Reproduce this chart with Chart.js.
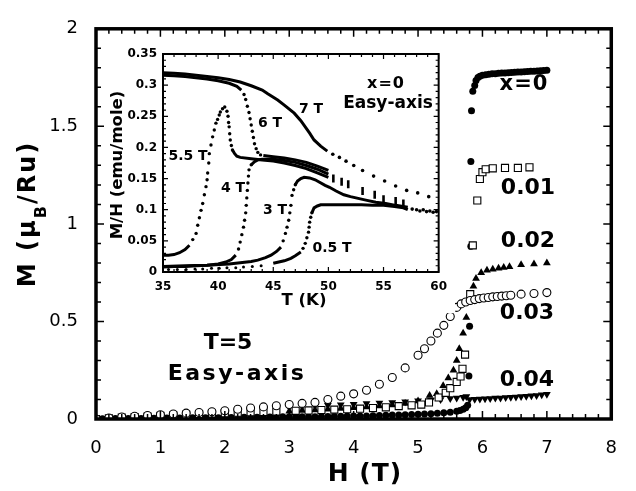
<!DOCTYPE html>
<html>
<head>
<meta charset="utf-8">
<script src="https://cdn.jsdelivr.net/npm/chart.js@4.4.1/dist/chart.umd.min.js"></script>
<style>
  body { margin: 0; background: #fff; }
  #wrap { position: relative; width: 636px; height: 491px; }
  #main { position: absolute; left: 0; top: 0; }
  #inset { position: absolute; left: 105px; top: 38px; background: #fff; }
</style>
</head>
<body>
<div id="wrap">
  <canvas id="main" width="636" height="491"></canvas>
  <canvas id="inset" width="350" height="275"></canvas>
</div>
<script>
"use strict"

// ---------- main plot: M (muB/Ru) vs H (T), T = 5 K ----------

// x = 0 (filled circles)
const H_x0 = [
  0, 0.1, 0.2, 0.3, 0.4, 0.5, 0.6, 0.7, 0.8, 0.9,
  1, 1.1, 1.2, 1.3, 1.4, 1.5, 1.6, 1.7, 1.8, 1.9,
  2, 2.1, 2.2, 2.3, 2.4, 2.5, 2.6, 2.7, 2.8, 2.9,
  3, 3.1, 3.2, 3.3, 3.4, 3.5, 3.6, 3.7, 3.8, 3.9,
  4, 4.1, 4.2, 4.3, 4.4, 4.5, 4.6, 4.7, 4.8, 4.9,
  5, 5.1, 5.2, 5.3, 5.4, 5.5, 5.6, 5.65, 5.7, 5.74, 5.77,
  5.79, 5.8, 5.82, 5.82, 5.83, 5.85, 5.88, 5.9, 5.93, 5.96,
  6, 6.05, 6.1, 6.15, 6.2, 6.25, 6.3, 6.35, 6.4, 6.45,
  6.5, 6.55, 6.6, 6.65, 6.7, 6.75, 6.8, 6.85, 6.9, 6.95, 7
];
const M_x0 = [
  0, 0.001, 0.001, 0.002, 0.002, 0.003, 0.003, 0.003, 0.004, 0.004,
  0.004, 0.005, 0.005, 0.005, 0.006, 0.006, 0.006, 0.007, 0.007, 0.007,
  0.008, 0.008, 0.008, 0.009, 0.009, 0.009, 0.010, 0.010, 0.010, 0.011,
  0.011, 0.011, 0.012, 0.012, 0.012, 0.013, 0.013, 0.014, 0.014, 0.015,
  0.015, 0.016, 0.016, 0.017, 0.018, 0.019, 0.020, 0.021, 0.022, 0.023,
  0.024, 0.025, 0.027, 0.029, 0.032, 0.035, 0.040, 0.044, 0.050, 0.058, 0.070,
  0.22, 0.475, 0.886, 1.32, 1.58, 1.68, 1.71, 1.735, 1.75, 1.757,
  1.762, 1.765, 1.767, 1.769, 1.77, 1.772, 1.773, 1.774, 1.775, 1.776,
  1.777, 1.778, 1.779, 1.78, 1.781, 1.782, 1.783, 1.784, 1.785, 1.786, 1.787
];

// x = 0.01 (open squares)
const H_x01 = [
  0, 0.2, 0.4, 0.6, 0.8, 1, 1.2, 1.4, 1.6, 1.8, 2, 2.2, 2.4, 2.6, 2.8,
  3.1, 3.3, 3.5, 3.7, 3.9, 4.1, 4.3, 4.5, 4.7, 4.9,
  5.05, 5.17, 5.32, 5.43, 5.5, 5.6, 5.66, 5.69, 5.73, 5.81,
  5.85, 5.92, 5.96, 6, 6.05, 6.16, 6.35, 6.55, 6.73
];
const M_x01 = [
  0, 0.004, 0.007, 0.010, 0.013, 0.016, 0.019, 0.022, 0.025, 0.028, 0.030, 0.032, 0.035, 0.036, 0.038,
  0.042, 0.044, 0.046, 0.048, 0.050, 0.053, 0.056, 0.060, 0.066, 0.070,
  0.074, 0.085, 0.110, 0.134, 0.158, 0.190, 0.218, 0.257, 0.330, 0.640,
  0.890, 1.120, 1.230, 1.265, 1.280, 1.285, 1.287, 1.287, 1.290
];

// x = 0.02 (filled triangles)
const H_x02 = [
  0, 0.2, 0.4, 0.6, 0.8, 1, 1.2, 1.4, 1.6, 1.8, 2, 2.2, 2.4,
  2.6, 2.8, 3, 3.2, 3.4, 3.6, 3.8, 4, 4.2, 4.4, 4.6, 4.8, 5,
  5.18, 5.29, 5.39, 5.47, 5.55, 5.6, 5.64, 5.7, 5.75,
  5.86, 5.9, 5.98, 6.07, 6.16, 6.25, 6.33, 6.42, 6.6, 6.8, 7
];
const M_x02 = [
  0, 0.003, 0.006, 0.009, 0.012, 0.015, 0.018, 0.020, 0.023, 0.026, 0.028, 0.031, 0.033,
  0.036, 0.038, 0.040, 0.043, 0.046, 0.050, 0.054, 0.058, 0.062, 0.066, 0.072, 0.080, 0.092,
  0.12, 0.13, 0.17, 0.21, 0.25, 0.30, 0.36, 0.44, 0.52,
  0.68, 0.72, 0.75, 0.762, 0.768, 0.773, 0.777, 0.78, 0.79, 0.795, 0.80
];

// x = 0.03 (open circles)
const H_x03 = [
  0, 0.2, 0.4, 0.6, 0.8, 1, 1.2, 1.4, 1.6, 1.8,
  2, 2.2, 2.4, 2.6, 2.8, 3, 3.2, 3.4, 3.6, 3.8,
  4, 4.2, 4.4, 4.6, 4.8, 5, 5.1, 5.2, 5.3, 5.4,
  5.5, 5.6, 5.67, 5.74, 5.81, 5.88, 5.95, 6.02, 6.09, 6.16,
  6.23, 6.3, 6.37, 6.44, 6.6, 6.8, 7
];
const M_x03 = [
  0, 0.005, 0.010, 0.014, 0.018, 0.022, 0.026, 0.030, 0.033, 0.037,
  0.042, 0.050, 0.056, 0.062, 0.068, 0.074, 0.080, 0.085, 0.100, 0.117,
  0.129, 0.147, 0.178, 0.213, 0.262, 0.327, 0.36, 0.40, 0.44, 0.48,
  0.525, 0.572, 0.59, 0.60, 0.607, 0.612, 0.617, 0.62, 0.623, 0.626,
  0.628, 0.63, 0.632, 0.634, 0.64, 0.643, 0.648
];

// x = 0.04 (filled down triangles)
const H_x04 = [
  0, 0.2, 0.4, 0.6, 0.8, 1, 1.2, 1.4, 1.6, 1.8,
  2, 2.2, 2.4, 2.6, 2.8, 3, 3.2, 3.4, 3.6, 3.8,
  4, 4.2, 4.4, 4.6, 4.8, 5, 5.2, 5.35, 5.5, 5.6, 5.7, 5.75,
  5.8, 5.88, 5.96, 6.04, 6.12, 6.2, 6.28, 6.36, 6.44, 6.52,
  6.6, 6.68, 6.76, 6.84, 6.92, 7
];
const M_x04 = [
  0, 0.004, 0.008, 0.012, 0.016, 0.020, 0.024, 0.028, 0.032, 0.036,
  0.040, 0.044, 0.048, 0.052, 0.056, 0.060, 0.063, 0.066, 0.070, 0.073,
  0.076, 0.079, 0.082, 0.085, 0.089, 0.093, 0.097, 0.100, 0.105, 0.108, 0.112, 0.115,
  0.100, 0.101, 0.102, 0.104, 0.105, 0.107, 0.108, 0.110, 0.111, 0.113,
  0.115, 0.117, 0.119, 0.121, 0.124, 0.127
];

// ---------- inset: M/H (emu/mole) vs T (K), x = 0 ----------

// 7 T
const T_7 = [35, 36, 37, 38, 39, 40, 41, 42, 43, 44, 44.5, 45.4, 46, 46.9, 47.5, 48.3, 48.7, 49.3, 49.9];
const MH_7 = [0.320, 0.319, 0.318, 0.316, 0.314, 0.312, 0.309, 0.305, 0.299, 0.292, 0.286, 0.276, 0.268, 0.255, 0.243, 0.223, 0.212, 0.202, 0.194];
const T_7dots = [50.4, 51.0, 51.6, 52.3, 53.1, 54.1, 55.1, 56.1, 57.1, 58.1, 59.1];
const MH_7dots = [0.189, 0.184, 0.178, 0.171, 0.163, 0.154, 0.146, 0.138, 0.131, 0.127, 0.121];

// 6 T
const T_6 = [35, 36, 37, 38, 39, 40, 41, 41.7, 42.1];
const MH_6 = [0.316, 0.315, 0.314, 0.312, 0.310, 0.307, 0.303, 0.298, 0.292];
const T_6drop = [42.35, 42.5, 42.65, 42.8, 42.9, 43.0, 43.1, 43.2, 43.3, 43.45, 43.6, 43.85];
const MH_6drop = [0.285, 0.277, 0.266, 0.256, 0.246, 0.236, 0.226, 0.216, 0.206, 0.198, 0.192, 0.188];
const T_6band = [44.1, 45, 46, 47, 48, 49, 50];
const MH_6band = [0.187, 0.185, 0.183, 0.180, 0.176, 0.170, 0.163];

// 5.5 T
const T_55 = [35, 35.5, 36, 36.5, 37, 37.4];
const MH_55 = [0.027, 0.027, 0.028, 0.031, 0.036, 0.043];
const T_55rise = [37.7, 38.0, 38.15, 38.3, 38.45, 38.6, 38.75, 38.9, 39.0, 39.05, 39.15, 39.2, 39.35, 39.5, 39.65,
  39.8, 39.95, 40.1, 40.2, 40.4, 40.6, 40.8, 40.9, 40.95, 41.0, 41.05, 41.1, 41.2, 41.3];
const MH_55rise = [0.052, 0.062, 0.075, 0.087, 0.099, 0.110, 0.124, 0.137, 0.148, 0.159, 0.175, 0.190, 0.204, 0.217, 0.228,
  0.239, 0.245, 0.252, 0.257, 0.262, 0.265, 0.258, 0.250, 0.240, 0.233, 0.222, 0.212, 0.203, 0.196];
const T_55band = [41.3, 41.5, 41.7, 42, 43, 44, 45, 46, 47, 48, 49, 50];
const MH_55band = [0.196, 0.190, 0.186, 0.184, 0.182, 0.180, 0.178, 0.175, 0.171, 0.166, 0.159, 0.152];

// 4 T
const T_4 = [35, 36, 37, 38, 39, 40, 40.7, 41.2, 41.6];
const MH_4 = [0.008, 0.009, 0.009, 0.010, 0.011, 0.013, 0.016, 0.020, 0.027];
const T_4rise = [41.85, 42.0, 42.15, 42.3, 42.4, 42.5, 42.55, 42.6, 42.65, 42.7, 42.75, 42.8, 43.0];
const MH_4rise = [0.037, 0.048, 0.060, 0.072, 0.083, 0.095, 0.107, 0.119, 0.131, 0.143, 0.154, 0.164, 0.172];
const T_4band = [43.0, 43.3, 43.6, 44, 45, 46, 47, 48, 49, 50];
const MH_4band = [0.172, 0.177, 0.180, 0.181, 0.181, 0.179, 0.176, 0.171, 0.165, 0.157];

// clustered points of the 4-6 T curves above 50 K
const T_dash = [50.45, 51.2, 51.8, 53.1, 54.2, 55.0, 56.1, 56.8];
const MH_dash = [0.150, 0.145, 0.141, 0.130, 0.124, 0.117, 0.114, 0.110];

// 3 T
const T_3 = [35, 37, 39, 41, 42, 43, 43.6, 44.3, 44.8, 45.3, 45.7];
const MH_3 = [0.009, 0.010, 0.011, 0.013, 0.015, 0.017, 0.019, 0.023, 0.027, 0.033, 0.040];
const T_3rise = [45.9, 46.1, 46.25, 46.4, 46.5, 46.6, 46.7, 46.85, 47.0];
const MH_3rise = [0.050, 0.062, 0.072, 0.083, 0.095, 0.107, 0.123, 0.132, 0.140];
const T_3top = [47.0, 47.2, 47.5, 47.8, 48.3, 48.8, 49.2, 49.7, 50.1, 50.7, 51.4, 52.0, 52.5, 53.5, 54.3, 55.2, 56.1, 57.2];
const MH_3top = [0.140, 0.146, 0.150, 0.152, 0.151, 0.148, 0.144, 0.139, 0.136, 0.130, 0.124, 0.121, 0.119, 0.115, 0.112, 0.110, 0.107, 0.104];

// 0.5 T
const T_05 = [45.0, 45.5, 46, 46.6, 47, 47.5];
const MH_05 = [0.014, 0.016, 0.018, 0.022, 0.026, 0.032];
const T_05rise = [47.7, 47.9, 48.05, 48.2, 48.25, 48.3, 48.4, 48.5];
const MH_05rise = [0.038, 0.046, 0.055, 0.064, 0.072, 0.080, 0.088, 0.095];
const T_05top = [48.5, 48.7, 49.0, 49.3, 50, 51, 52, 53, 54, 55, 56, 56.8, 57.2];
const MH_05top = [0.095, 0.103, 0.106, 0.108, 0.108, 0.108, 0.108, 0.108, 0.107, 0.107, 0.105, 0.103, 0.100];
const T_tail = [57.6, 58.0, 58.3, 58.6, 58.9, 59.2, 59.5, 59.8];
const MH_tail = [0.101, 0.100, 0.098, 0.100, 0.097, 0.098, 0.096, 0.097];

// sparse low points
const T_base = [35.5, 36.3, 37.1, 37.9, 38.6, 39.4, 40.1, 40.8, 41.6, 42.3, 43.1, 43.9];
const MH_base = [0.004, 0.004, 0.004, 0.005, 0.005, 0.006, 0.006, 0.007, 0.007, 0.008, 0.009, 0.010];


const FONT = "'DejaVu Sans', 'Liberation Sans', Arial, sans-serif";

function zip(xs, ys) {
    return xs.map(function (v, i) { return { x: v, y: ys[i] }; });
}

function fmt(v) {
    return String(+Number(v).toFixed(2));
}

function text(ctx, str, x, y, size, spacing, rot) {
    ctx.save();
    ctx.font = "bold " + size + "px " + FONT;
    ctx.letterSpacing = (spacing || 0) + "px";
    ctx.fillStyle = "#000";
    ctx.textAlign = "center";
    ctx.textBaseline = "middle";
    ctx.translate(x, y);
    if (rot) ctx.rotate(rot);
    ctx.fillText(str, 0, 0);
    ctx.restore();
};

// frame + inward ticks on all four sides
const framePlugin = {
    id: "frame",
    afterDatasetsDraw(chart, args, o) {
        const ctx = chart.ctx;
        const a = chart.chartArea;
        const xs = chart.scales.x;
        const ys = chart.scales.y;

        ctx.save();
        ctx.strokeStyle = "#000";
        ctx.lineWidth = o.tickWidth;
        ctx.beginPath();

        const nx = Math.round((xs.max - xs.min) / o.xMinor);
        const kx = Math.round(o.xMajor / o.xMinor);
        for (let i = 0; i <= nx; i++) {
            const px = xs.getPixelForValue(xs.min + i * o.xMinor);
            const len = (i % kx === 0) ? o.major : o.minor;
            ctx.moveTo(px, a.bottom); ctx.lineTo(px, a.bottom - len);
            ctx.moveTo(px, a.top); ctx.lineTo(px, a.top + len);
        }

        const ny = Math.round((ys.max - ys.min) / o.yMinor);
        const ky = Math.round(o.yMajor / o.yMinor);
        for (let i = 0; i <= ny; i++) {
            const py = ys.getPixelForValue(ys.min + i * o.yMinor);
            const len = (i % ky === 0) ? o.major : o.minor;
            ctx.moveTo(a.left, py); ctx.lineTo(a.left + len, py);
            ctx.moveTo(a.right, py); ctx.lineTo(a.right - len, py);
        }
        ctx.stroke();

        ctx.lineWidth = o.lineWidth;
        ctx.strokeRect(a.left, a.top, a.right - a.left, a.bottom - a.top);
        ctx.restore();
    }
};

const mainText = {
    id: "mainText",
    afterDraw(chart) {
        const ctx = chart.ctx;

        text(ctx, "x=0", 524, 85, 21, 1);
        text(ctx, "0.01", 528, 188, 22, 0);
        text(ctx, "0.02", 528, 241, 22, 0);
        text(ctx, "0.03", 527, 313, 22, 0);
        text(ctx, "0.04", 527, 380, 22, 0);
        text(ctx, "T=5", 228, 343, 22, 0);
        text(ctx, "Easy-axis", 237, 374, 22, 2.5);
        text(ctx, "H (T)", 365, 474, 25, 1);

        // y title with subscript
        ctx.save();
        ctx.translate(35, 214);
        ctx.rotate(-Math.PI / 2);
        ctx.fillStyle = "#000";
        ctx.textAlign = "left";
        ctx.textBaseline = "alphabetic";
        ctx.letterSpacing = "2px";
        const big = "bold 24px " + FONT;
        const small = "bold 16px " + FONT;
        const a = "M (\u03bc", b = "B", c = "/Ru)";
        ctx.font = big;
        const wa = ctx.measureText(a).width;
        const wc = ctx.measureText(c).width;
        ctx.font = small;
        const wb = ctx.measureText(b).width;
        let x = -(wa + wb + wc) / 2;
        ctx.font = big; ctx.fillText(a, x, 0); x += wa;
        ctx.font = small; ctx.fillText(b, x, 11); x += wb;
        ctx.font = big; ctx.fillText(c, x, 0);
        ctx.restore();
    }
};

const insetText = {
    id: "insetText",
    afterDraw(chart) {
        const ctx = chart.ctx;
        text(ctx, "x=0", 281, 46, 16, 1);
        text(ctx, "Easy-axis", 283, 66, 17, 0);
        text(ctx, "7 T", 206, 71, 14, 0);
        text(ctx, "6 T", 165, 85, 14, 0);
        text(ctx, "5.5 T", 83, 118, 14, 0);
        text(ctx, "4 T", 128, 150, 14, 0);
        text(ctx, "3 T", 170, 172, 14, 0);
        text(ctx, "0.5 T", 227, 210, 14, 0);
        text(ctx, "T (K)", 199, 263, 16.5, 0);
        text(ctx, "M/H (emu/mole)", 13, 127, 16.5, 0, -Math.PI / 2);
    }
};

function marks(xs, ys, style, radius, filled, rotation) {
    return {
        data: zip(xs, ys),
        pointStyle: style,
        pointRadius: radius,
        pointRotation: rotation || 0,
        backgroundColor: filled ? "#000" : "#fff",
        borderColor: "#000",
        borderWidth: filled ? 0 : 1.1
    };
};

function curve(xs, ys, width) {
    return {
        data: zip(xs, ys),
        showLine: true,
        tension: 0,
        pointRadius: 0,
        borderColor: "#000",
        borderWidth: width || 3
    };
};

function dots(xs, ys, r) {
    return {
        data: zip(xs, ys),
        showLine: false,
        pointRadius: r || 1.6,
        backgroundColor: "#000",
        borderWidth: 0
    };
};

function axis(min, max, step, size, bold, pad, fit) {
    return {
        type: "linear",
        min: min,
        max: max,
        afterFit: fit,
        grid: { display: false, drawTicks: false },
        border: { display: false },
        ticks: {
            stepSize: step,
            padding: pad,
            color: "#000",
            font: { family: FONT, size: size, weight: bold ? "bold" : "normal" },
            callback: fmt
        }
    };
};


new Chart(document.getElementById("main"), {
    type: "scatter",
    data: {
        datasets: [
            marks(H_x03, M_x03, "circle", 4, false),
            marks(H_x01, M_x01, "rect", 5, false),
            marks(H_x02, M_x02, "triangle", 4.5, true),
            marks(H_x04, M_x04, "triangle", 4.5, true, 180),
            marks(H_x0, M_x0, "circle", 3.5, true)
        ]
    },
    options: {
        responsive: false,
        animation: false,
        devicePixelRatio: 1,
        layout: { padding: { top: 15, right: 18, left: 0, bottom: 0 } },
        plugins: {
            legend: { display: false },
            tooltip: { enabled: false },
            frame: { xMinor: 0.2, xMajor: 1, yMinor: 0.1, yMajor: 0.5, major: 8, minor: 5, tickWidth: 1.5, lineWidth: 3.5 }
        },
        scales: {
            x: axis(0, 8, 1, 18, false, 19, function (s) { s.height = 72; }),
            y: axis(0, 2, 0.5, 18, false, 18, function (s) { s.width = 96; })
        }
    },
    plugins: [framePlugin, mainText]
});


new Chart(document.getElementById("inset"), {
    type: "scatter",
    data: {
        datasets: [
            curve(T_7, MH_7),
            dots(T_7dots, MH_7dots, 1.8),
            curve(T_6, MH_6),
            dots(T_6drop, MH_6drop, 1.7),
            curve(T_6band, MH_6band),
            curve(T_55, MH_55),
            dots(T_55rise, MH_55rise, 1.7),
            curve(T_55band, MH_55band),
            curve(T_4, MH_4),
            dots(T_4rise, MH_4rise, 1.7),
            curve(T_4band, MH_4band),
            {
                data: zip(T_dash, MH_dash),
                showLine: false,
                pointStyle: "line",
                pointRotation: 90,
                pointRadius: 4,
                borderColor: "#000",
                borderWidth: 2.6
            },
            curve(T_3, MH_3),
            dots(T_3rise, MH_3rise, 1.7),
            curve(T_3top, MH_3top),
            curve(T_05, MH_05),
            dots(T_05rise, MH_05rise, 1.7),
            curve(T_05top, MH_05top),
            dots(T_tail, MH_tail, 1.8),
            dots(T_base, MH_base, 1.5)
        ]
    },
    options: {
        responsive: false,
        animation: false,
        devicePixelRatio: 1,
        layout: { padding: { top: 16, right: 11, left: 0, bottom: 0 } },
        plugins: {
            legend: { display: false },
            tooltip: { enabled: false },
            frame: { xMinor: 1, xMajor: 5, yMinor: 0.01, yMajor: 0.05, major: 5, minor: 3, tickWidth: 1.2, lineWidth: 2 }
        },
        scales: {
            x: axis(35, 60, 5, 12, true, 8, function (s) { s.height = 41; }),
            y: axis(0, 0.35, 0.05, 12, true, 6, function (s) { s.width = 58; })
        }
    },
    plugins: [framePlugin, insetText]
});
</script>
</body>
</html>
